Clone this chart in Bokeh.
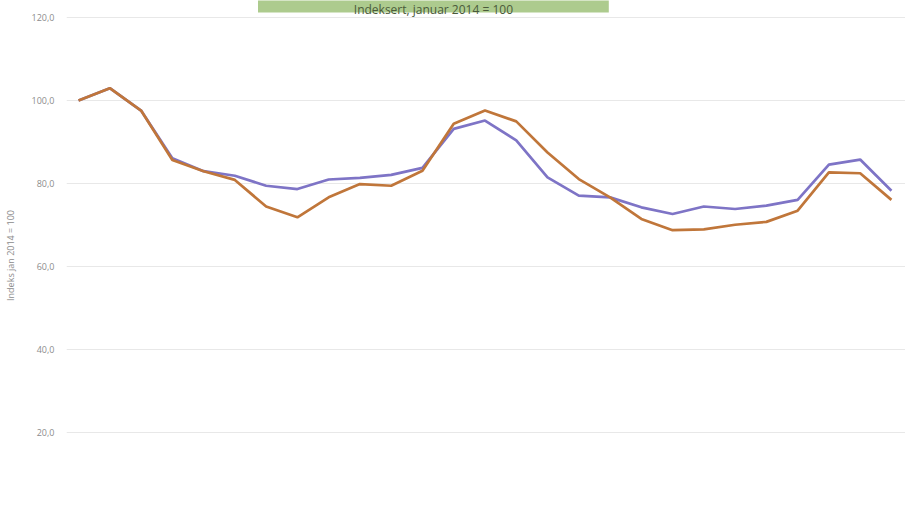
from bokeh.plotting import figure
from bokeh.models import Range1d, CustomJSTickFormatter, FixedTicker
from bokeh.core.properties import value
from bokeh.embed import file_html
from bokeh.resources import INLINE

# ---- data (index, jan 2014 = 100) ----
periods = list(range(27))
series_blue = [100.0, 103.0, 97.6, 86.1, 83.0, 81.9, 79.5, 78.7, 81.0, 81.4,
               82.1, 83.8, 93.2, 95.2, 90.4, 81.5, 77.1, 76.7, 74.3, 72.7,
               74.5, 73.9, 74.7, 76.1, 84.6, 85.8, 78.3]
series_orange = [100.0, 103.0, 97.6, 85.7, 83.0, 80.9, 74.5, 71.9, 76.7, 79.9,
                 79.5, 83.1, 94.4, 97.6, 95.0, 87.5, 81.1, 76.7, 71.5, 68.8,
                 69.0, 70.1, 70.8, 73.5, 82.7, 82.5, 76.1]
y_ticks = [0, 20, 40, 60, 80, 100, 120]
title_text = "Indeksert, januar 2014 = 100"
y_title = "Indeks jan 2014 = 100"

FONT = "Open Sans"

p = figure(width=905, height=510, output_backend="svg", toolbar_location=None,
           x_range=Range1d(-0.385, 26.45), y_range=Range1d(1.3, 124.1),
           min_border_left=0, min_border_right=0, min_border_top=0, min_border_bottom=0)
p.outline_line_color = None
p.xaxis.visible = False
p.xgrid.visible = False

p.ygrid.grid_line_color = "#E8E8E8"
p.ygrid.grid_line_width = 1
p.yaxis.ticker = FixedTicker(ticks=y_ticks)
p.yaxis.formatter = CustomJSTickFormatter(code="return tick.toFixed(1).replace('.', ',');")
p.yaxis.axis_line_color = None
p.yaxis.major_tick_line_color = None
p.yaxis.minor_tick_line_color = None
p.yaxis.major_label_text_color = "#8C8C8C"
p.yaxis.major_label_text_font = FONT
p.yaxis.major_label_text_font_size = "9px"
p.yaxis.major_label_standoff = 6
p.yaxis.axis_label = y_title
p.yaxis.axis_label_text_font = FONT
p.yaxis.axis_label_text_font_size = "9px"
p.yaxis.axis_label_text_font_style = "normal"
p.yaxis.axis_label_text_color = "#8C8C8C"
p.yaxis.axis_label_standoff = 12

# title box (decoration at top, partly cut off like the reference)
p.quad(left=[5.74], right=[16.96], top=[125.0], bottom=[121.2],
       fill_color="#ADCB8E", line_color=None)
p.text(x=[11.35], y=[121.85], text=[title_text], text_align="center",
       text_baseline="alphabetic", text_font=value(FONT), text_font_size="12px",
       text_color="#4A5A3A")

p.line(periods, series_blue, line_color="#7E74C6", line_width=2.7)
p.line(periods, series_orange, line_color="#C0763A", line_width=2.7)

open("out.html", "w").write(file_html(p, INLINE))
